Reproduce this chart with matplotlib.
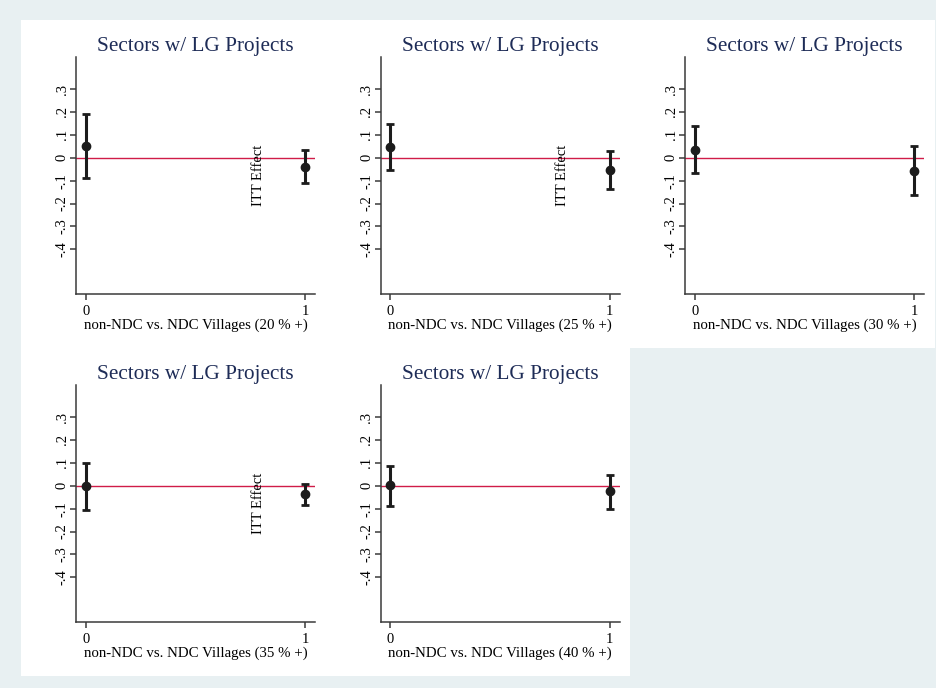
import matplotlib
matplotlib.use('Agg')
import matplotlib.pyplot as plt
from matplotlib.patches import Rectangle

# cut-offs for the five panels
cutoffs = [20, 25, 30, 35, 40]
groups = [0, 1]

# ITT estimate and 95% CI for group 0 (non-NDC) and group 1 (NDC)
coef_0 = [0.051, 0.045, 0.035, 0.000, 0.003]
low_0 = [-0.090, -0.054, -0.067, -0.105, -0.087]
high_0 = [0.191, 0.147, 0.137, 0.098, 0.087]
coef_1 = [-0.039, -0.054, -0.056, -0.036, -0.025]
low_1 = [-0.111, -0.136, -0.164, -0.082, -0.100]
high_1 = [0.033, 0.028, 0.051, 0.009, 0.048]

ytick_vals = [-0.4, -0.3, -0.2, -0.1, 0, 0.1, 0.2, 0.3]
ytick_text = ['-.4', '-.3', '-.2', '-.1', '0', '.1', '.2', '.3']
# panels that carry the stray "ITT Effect" label
itt_panels = [0, 1, 3]

W, H = 937, 688
BG = '#e8f0f2'
TITLE_COL = '#1e2c57'
LINE_COL = '#d01c48'
MARK_COL = '#1c1c1c'
FONT = 'Liberation Serif'

fig = plt.figure(figsize=(W / 100, H / 100), dpi=100)
fig.patch.set_facecolor(BG)

pw, ph = 304.6, 328
x0, y0 = 21, 20

def fx(px):
    return px / W

def fy(py):
    return 1 - py / H

for i, cut in enumerate(cutoffs):
    row, col = divmod(i, 3)
    left = x0 + col * pw
    top = y0 + row * ph
    # white subgraph background
    fig.patches.append(Rectangle((fx(left), fy(top + ph)), pw / W, ph / H,
                                 transform=fig.transFigure, facecolor='white',
                                 edgecolor='none', zorder=-10))
    ax_l = left + 55
    ax_t = top + 37
    ax = fig.add_axes([fx(ax_l), fy(ax_t + 237), 239 / W, 237 / H])
    ax.set_facecolor('white')
    ax.set_xlim(-0.045, 1.045)
    ax.set_ylim(-0.595, 0.44)

    ax.axhline(0, color=LINE_COL, lw=1.0, zorder=1)
    ys = [coef_0[i], coef_1[i]]
    err_lo = [coef_0[i] - low_0[i], coef_1[i] - low_1[i]]
    err_hi = [high_0[i] - coef_0[i], high_1[i] - coef_1[i]]
    ax.errorbar(groups, ys, yerr=[err_lo, err_hi], fmt='o', color=MARK_COL,
                ms=6, elinewidth=2.2, capsize=3.2, capthick=2.0, zorder=3)

    for s in ['top', 'right']:
        ax.spines[s].set_visible(False)
    for s in ['left', 'bottom']:
        ax.spines[s].set_color('#3a3a3a')
        ax.spines[s].set_linewidth(1.1)

    ax.set_xticks(groups)
    ax.set_xticklabels(['0', '1'], fontsize=10.5, family=FONT)
    ax.set_yticks(ytick_vals)
    ax.set_yticklabels(ytick_text, fontsize=10.5, family=FONT, rotation=90, va='center')
    ax.tick_params(direction='out', length=4.2, width=1.1, color='#3a3a3a')
    ax.tick_params(axis='x', pad=4)
    ax.tick_params(axis='y', pad=1)

    ax.set_xlabel('non-NDC vs. NDC Villages (%d %% +)' % cut, fontsize=10.7,
                  family=FONT, labelpad=0)
    ax.set_title('Sectors w/ LG Projects', fontsize=15.3, family=FONT,
                 color=TITLE_COL, pad=4)
    if i in itt_panels:
        ax.text(0.786, -0.079, 'ITT Effect', rotation=90, fontsize=10.5, family=FONT,
                ha='center', va='center', zorder=2)

fig.savefig('out.png', dpi=100, facecolor=BG)
